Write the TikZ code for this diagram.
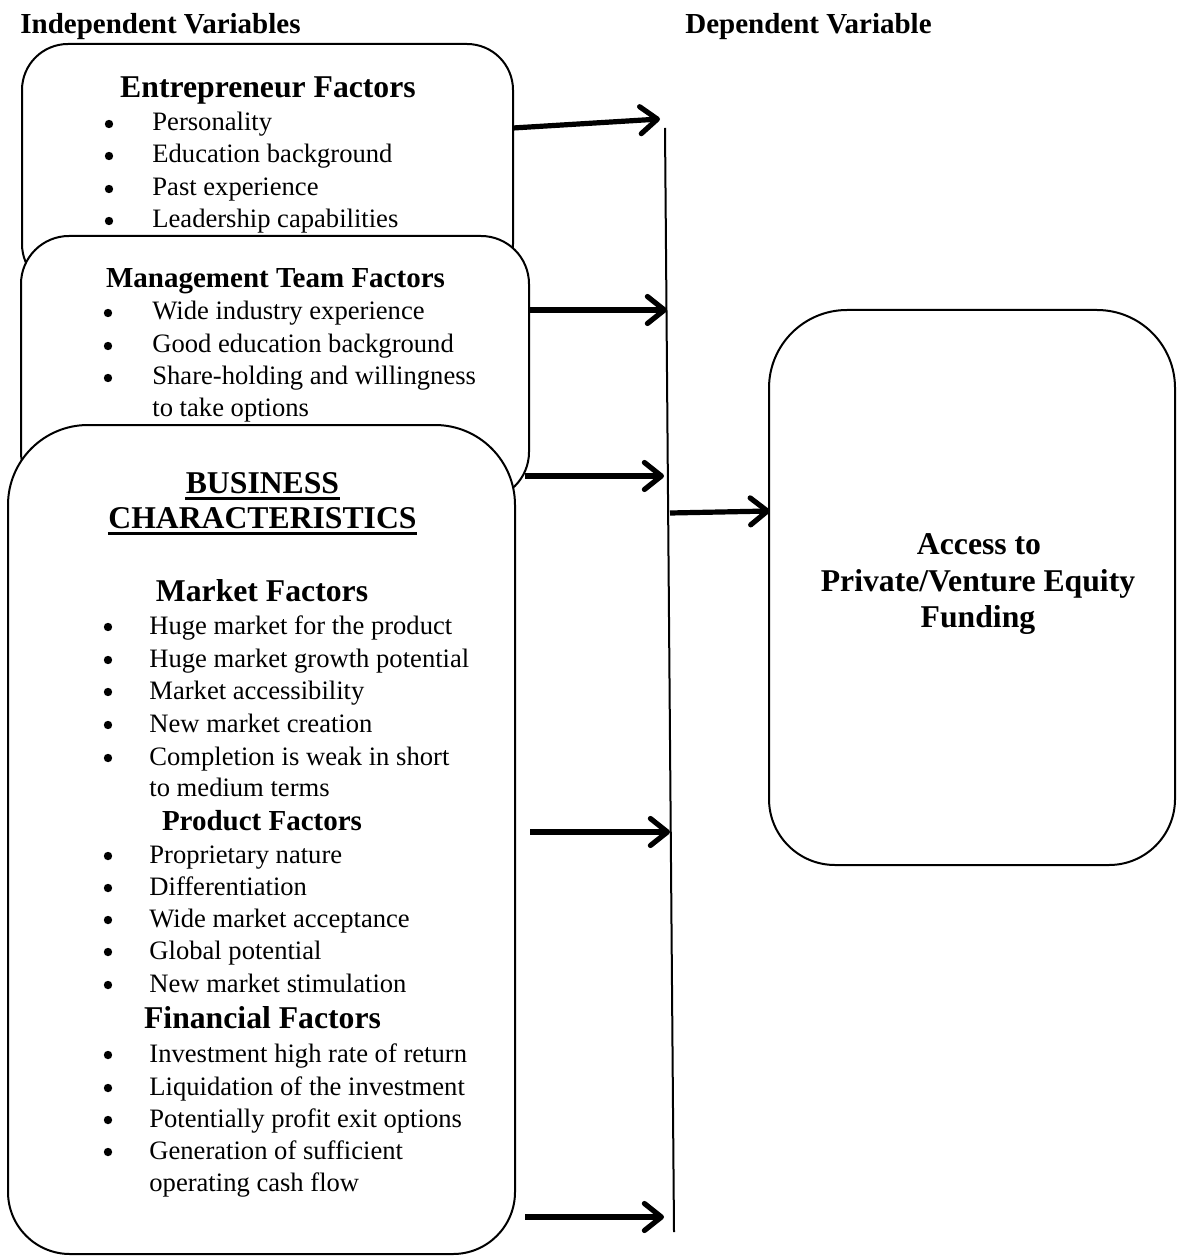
\documentclass[tikz,border=0pt]{standalone}
\usepackage{fontspec}
\setmainfont{Liberation Serif}
\usetikzlibrary{arrows.meta}
\newcommand\myrbox[6]{\filldraw[boxline] (#1,{(#2+#4)/2}) [rounded corners=#5] -- (#1,#2) -- (#3,#2) -- (#3,{(#2+#4)/2}) [rounded corners=#6] -- (#3,#4) -- (#1,#4) -- cycle;}
\begin{document}
\begin{tikzpicture}[x=0.5pt,y=-0.5pt,
 boxline/.style={line width=1pt, fill=white, draw=black},
 body/.style={inner sep=0pt, anchor=base west, font=\fontsize{13.3}{16}\selectfont},
 bul/.style={circle, fill=black, inner sep=0pt, minimum size=4.2pt},
 headA/.style={inner sep=0pt, anchor=base, font=\fontsize{15.85}{19}\selectfont\bfseries},
 headB/.style={inner sep=0pt, anchor=base, font=\fontsize{14.5}{17}\selectfont\bfseries},
 toplbl/.style={inner sep=0pt, anchor=base west, font=\fontsize{14.5}{17}\selectfont\bfseries},
 arr/.style={line width=2.6pt, -{Straight Barb[length=8.5pt,width=13.5pt,round]}},
 vline/.style={line width=1pt},
]
\useasboundingbox (0,0) rectangle (1191,1256);

% top labels
\node[toplbl] (indep) at (20,34) {Independent Variables};
\node[toplbl] (dep) at (685,34) {Dependent Variable};

% Entrepreneur box
\myrbox{22}{44}{513}{290}{23pt}{23pt}
\node[headA] (eh) at (268,98) {Entrepreneur Factors};
\foreach \n/\t/\y in {1/Personality/131, 2/Education background/163, 3/Past experience/196, 4/Leadership capabilities/228}{
  \node[bul] (eb\n) at (109,\y-7) {};
  \node[body] (ei\n) at (152,\y) {\t};
}

% Management box
\myrbox{21}{236}{529}{500}{24pt}{24pt}
\node[headB] (mh) at (275.5,288) {Management Team Factors};
\foreach \n/\t/\y in {1/Wide industry experience/320, 2/Good education background/353, 3/Share-holding and willingness/385}{
  \node[bul] (mb\n) at (108,\y-7) {};
  \node[body] (mi\n) at (152,\y) {\t};
}
\node[body] (mi4) at (152,416) {to take options};

% Business box
\myrbox{8}{425}{515}{1254}{40pt}{31pt}
\node[headA] (bh1) at (262.5,493) {BUSINESS};
\node[headA] (bh2) at (262.5,528) {CHARACTERISTICS};
\draw[line width=1.4pt] ([yshift=-2.6pt]bh1.base west) -- ([yshift=-2.6pt]bh1.base east);
\draw[line width=1.4pt] ([yshift=-2.6pt]bh2.base west) -- ([yshift=-2.6pt]bh2.base east);

\node[headA] (mkh) at (262,601) {Market Factors};
\foreach \n/\t/\y in {1/Huge market for the product/634, 2/Huge market growth potential/667, 3/Market accessibility/699, 4/New market creation/732, 5/Completion is weak in short/765}{
  \node[bul] (kb\n) at (108,\y-7) {};
  \node[body] (ki\n) at (149,\y) {\t};
}
\node[body] (ki6) at (149,796) {to medium terms};

\node[headB] (ph) at (262,830) {Product Factors};
\foreach \n/\t/\y in {1/Proprietary nature/863, 2/Differentiation/895, 3/Wide market acceptance/927, 4/Global potential/959, 5/New market stimulation/992}{
  \node[bul] (pb\n) at (108,\y-7) {};
  \node[body] (pi\n) at (149,\y) {\t};
}

\node[headA] (fh) at (262.5,1028) {Financial Factors};
\foreach \n/\t/\y in {1/Investment high rate of return/1062, 2/Liquidation of the investment/1095, 3/Potentially profit exit options/1127, 4/Generation of sufficient/1159}{
  \node[bul] (fb\n) at (108,\y-7) {};
  \node[body] (fi\n) at (149,\y) {\t};
}
\node[body] (fi5) at (149,1191) {operating cash flow};

% vertical collector line
\coordinate (vt) at (665,128);
\coordinate (vb) at (674,1232);
\draw[vline] (vt) -- (vb);

% arrows
\coordinate (a1s) at (513,128);  \coordinate (a1e) at (660,119);
\coordinate (a2s) at (529,310);  \coordinate (a2e) at (667,310);
\coordinate (a3s) at (525,476);  \coordinate (a3e) at (664,476);
\coordinate (a5s) at (530,832);  \coordinate (a5e) at (670,832);
\coordinate (a6s) at (525,1217); \coordinate (a6e) at (664,1217);
\coordinate (a4s) at (670,513);  \coordinate (a4e) at (770,511);
\draw[arr] (a1s) -- (a1e);
\draw[arr] (a2s) -- (a2e);
\draw[arr] (a3s) -- (a3e);
\draw[arr] (a5s) -- (a5e);
\draw[arr] (a6s) -- (a6e);
\draw[arr] (a4s) -- (a4e);

% Access box
\myrbox{769}{310}{1175}{865}{39pt}{33pt}
\node[headA] (ac1) at (979,554) {Access to};
\node[headA] (ac2) at (978,591) {Private/Venture Equity};
\node[headA] (ac3) at (978,627) {Funding};
\end{tikzpicture}
\end{document}
